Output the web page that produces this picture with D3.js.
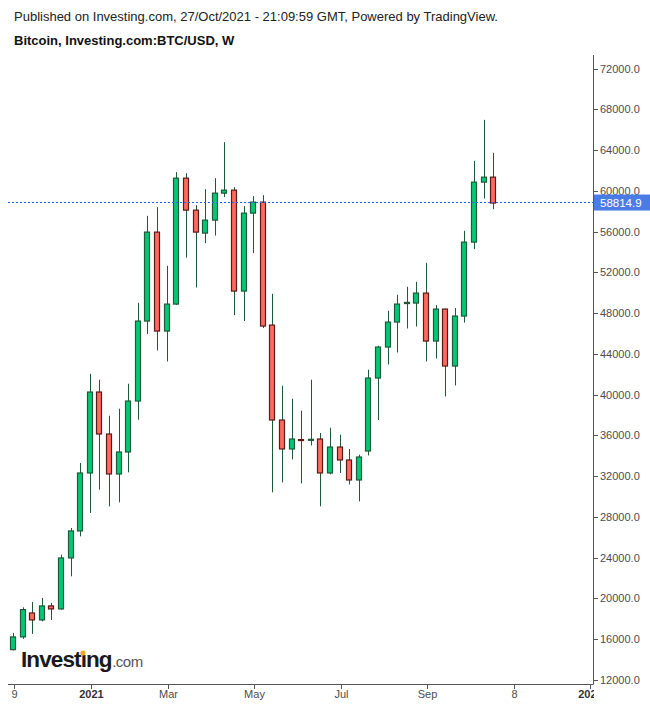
<!DOCTYPE html>
<html><head><meta charset="utf-8">
<script src="https://cdn.jsdelivr.net/npm/d3@7"></script>
<style>
body{margin:0;background:#fff}
svg{display:block;font-family:"Liberation Sans",Arial,sans-serif}
</style>
</head><body>
<svg id="c" width="650" height="705"></svg>
<script>
// ---- data (weekly BTC/USD candles) ----
const weeks = ["2020-11-09","2020-11-16","2020-11-23","2020-11-30","2020-12-07","2020-12-14","2020-12-21","2020-12-28",
"2021-01-04","2021-01-11","2021-01-18","2021-01-25","2021-02-01","2021-02-08","2021-02-15","2021-02-22",
"2021-03-01","2021-03-08","2021-03-15","2021-03-22","2021-03-29","2021-04-05","2021-04-12","2021-04-19",
"2021-04-26","2021-05-03","2021-05-10","2021-05-17","2021-05-24","2021-05-31","2021-06-07","2021-06-14",
"2021-06-21","2021-06-28","2021-07-05","2021-07-12","2021-07-19","2021-07-26","2021-08-02","2021-08-09",
"2021-08-16","2021-08-23","2021-08-30","2021-09-06","2021-09-13","2021-09-20","2021-09-27","2021-10-04",
"2021-10-11","2021-10-18","2021-10-25"];
const opens  = [14984,16230,18581,17898,19271,18977,23980,26629,32319,40265,36145,32221,34379,39382,47230,55961,
46249,48898,61258,58119,55863,57138,59787,60081,50173,57825,58904,46838,37518,34673,35600,35550,
35654,32319,34869,33594,31632,34477,41638,44679,47132,48950,48996,49977,45268,48407,42815,47720,
54980,60866,61356];
const highs  = [16620,19133,19664,20056,19565,24304,26923,33300,42060,41472,37940,38627,41079,49025,57560,58414,
52655,61847,61749,58610,60179,61258,64790,60375,58512,59492,59590,49908,40883,39608,38430,41472,
36243,36763,36076,34673,34114,42453,44807,48240,49810,50595,51085,52949,48800,48450,48505,56088,
62955,66978,63740];
const lows   = [14900,16034,16525,17760,17898,18900,22175,26100,28395,30680,29042,29435,32378,37548,45955,44346,
43267,48800,53469,50526,54882,55627,59394,47819,47230,53900,46543,30416,31397,33653,31298,35026,
29042,32181,32319,31200,29533,34045,37518,42972,44150,46504,46700,43267,43561,39833,40912,47083,
54293,59257,58217];
const closes = [16230,18908,17898,19271,18977,23980,26629,32319,40265,36145,32221,34379,39382,47230,55961,46249,
48898,61258,58119,55961,57138,59787,60081,50173,57825,58904,46740,37518,34673,35654,35520,35620,
32319,34869,33594,31632,33888,41638,44679,47132,48898,49060,49977,45268,48407,42815,47720,54980,
60866,61356,58814.9];
const lastPrice = 58814.9;
const yTicks = [12000,16000,20000,24000,28000,32000,36000,40000,44000,48000,52000,56000,60000,64000,68000,72000];
const xTickDates  = ["2020-11-09","2021-01-04","2021-03-01","2021-05-03","2021-07-05","2021-09-06","2021-11-08","2022-01-03"];
const xTickLabels = ["9","2021","Mar","May","Jul","Sep","8","2022"];
const xTickBold   = [false,true,false,false,false,false,false,true];
const headerLine1 = "Published on Investing.com, 27/Oct/2021 - 21:09:59 GMT, Powered by TradingView.";
const headerLine2 = "Bitcoin, Investing.com:BTC/USD, W";

// ---- layout ----
const plotLeft = 8, plotRight = 593, plotTop = 55, plotBottom = 684;
const svg = d3.select("#c");
const parse = d3.utcParse("%Y-%m-%d");

const x = d3.scaleUtc()
  .domain([parse("2020-11-09"), parse("2022-01-03")])
  .range([13, 13 + 60 * 9.606]);
const y = d3.scaleLinear().domain([12000, 72000]).range([680, 68.7]);

const candles = weeks.map((w, i) => ({d: parse(w), o: opens[i], h: highs[i], l: lows[i], c: closes[i]}));

// header
svg.append("text").attr("x", 14).attr("y", 21).attr("font-size", 13).attr("fill", "#222").text(headerLine1);
svg.append("text").attr("x", 14).attr("y", 45).attr("font-size", 13).attr("font-weight", "bold").attr("fill", "#111").text(headerLine2);

// clip
svg.append("defs").append("clipPath").attr("id", "plotclip")
  .append("rect").attr("x", plotLeft).attr("y", plotTop).attr("width", plotRight - plotLeft).attr("height", plotBottom - plotTop);
svg.append("defs").append("clipPath").attr("id", "xlabclip")
  .append("rect").attr("x", 0).attr("y", plotBottom).attr("width", plotRight + 1).attr("height", 30);

const g = svg.append("g").attr("clip-path", "url(#plotclip)");

// candles
const wickCol = "#1e5a38";
const cg = g.selectAll("g.candle").data(candles).join("g").attr("class", "candle");
cg.append("line")
  .attr("x1", d => Math.round(x(d.d)) + 0.5).attr("x2", d => Math.round(x(d.d)) + 0.5)
  .attr("y1", d => y(d.h)).attr("y2", d => y(d.l))
  .attr("stroke", wickCol).attr("stroke-width", 1);
cg.append("rect")
  .attr("x", d => Math.round(x(d.d)) - 3 + 0.5)
  .attr("width", 5)
  .attr("y", d => Math.min(y(d.o), y(d.c)))
  .attr("height", d => Math.max(Math.abs(y(d.o) - y(d.c)), 1))
  .attr("fill", d => d.c >= d.o ? "#00c878" : "#ff6a5e")
  .attr("stroke", d => d.c >= d.o ? "#1e5a38" : "#5a1a1a")
  .attr("stroke-width", 1.2);

// last price line
g.append("line")
  .attr("x1", plotLeft).attr("x2", plotRight)
  .attr("y1", Math.round(y(lastPrice)) - 0.5).attr("y2", Math.round(y(lastPrice)) - 0.5)
  .attr("stroke", "#2a62f5").attr("stroke-width", 1).attr("stroke-dasharray", "2,2");

// axes lines
svg.append("line").attr("x1", plotLeft).attr("x2", plotRight + 0.5).attr("y1", plotBottom + 0.5).attr("y2", plotBottom + 0.5)
  .attr("stroke", "#555").attr("stroke-width", 1);
svg.append("line").attr("x1", plotRight + 0.5).attr("x2", plotRight + 0.5).attr("y1", plotTop).attr("y2", plotBottom + 0.5)
  .attr("stroke", "#555").attr("stroke-width", 1);

// y axis ticks + labels
const yg = svg.append("g");
yTicks.forEach(t => {
  const yy = Math.round(y(t)) + 0.5;
  yg.append("line").attr("x1", plotRight).attr("x2", plotRight + 5).attr("y1", yy).attr("y2", yy).attr("stroke", "#555");
  yg.append("text").attr("x", 600).attr("y", yy + 3.5).attr("font-size", 11).attr("fill", "#4d4d4d")
    .text(d3.format(".1f")(t));
});

// last price label
svg.append("rect").attr("x", plotRight + 1).attr("y", y(lastPrice) - 8.5).attr("width", 650 - plotRight - 1).attr("height", 16)
  .attr("fill", "#4b7be5");
svg.append("text").attr("x", 600).attr("y", y(lastPrice) + 4).attr("font-size", 11.5).attr("fill", "#fff")
  .text(d3.format(".1f")(lastPrice));

// x axis ticks + labels
const xg = svg.append("g").attr("clip-path", "url(#xlabclip)");
xTickDates.forEach((ds, i) => {
  const xx = Math.round(x(parse(ds))) + 1.5;
  xg.append("line").attr("x1", xx).attr("x2", xx).attr("y1", plotBottom).attr("y2", plotBottom + 5).attr("stroke", "#555");
  xg.append("text").attr("x", xx).attr("y", 698).attr("text-anchor", "middle").attr("font-size", 11)
    .attr("font-weight", xTickBold[i] ? "bold" : "normal").attr("fill", xTickBold[i] ? "#333" : "#4d4d4d")
    .text(xTickLabels[i]);
});

// Investing.com logo
const logo = svg.append("text").attr("x", 21).attr("y", 667).attr("font-size", 22.5).attr("font-weight", "bold")
  .attr("letter-spacing", -0.9).attr("fill", "#1a1a1a").text("Invest\u0131ng");
const ext = logo.node().getExtentOfChar(6);
svg.append("circle").attr("cx", ext.x + ext.width / 2 - 0.4).attr("cy", 653).attr("r", 2.6).attr("fill", "#f5a623");
const lw = logo.node().getComputedTextLength();
svg.append("text").attr("x", 21 + lw + 0.5).attr("y", 667).attr("font-size", 15).attr("letter-spacing", -0.5)
  .attr("fill", "#555").text(".com");
</script>
</body></html>
